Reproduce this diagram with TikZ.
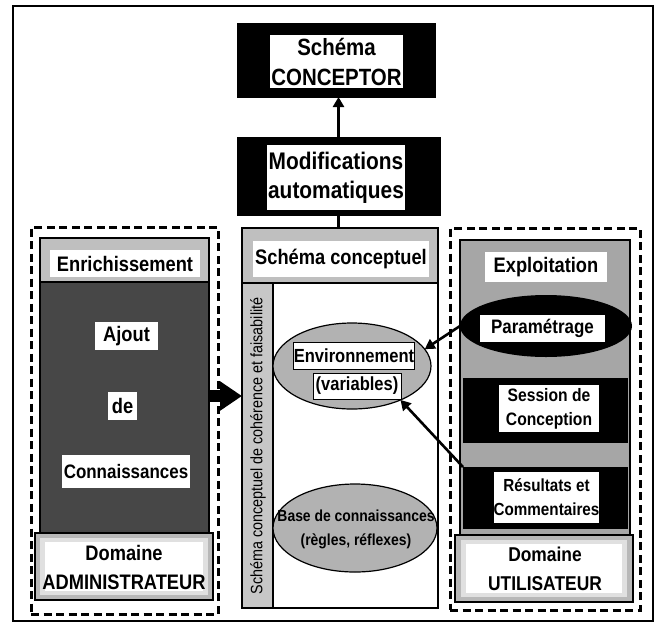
\documentclass[tikz,border=0pt]{standalone}
\usepackage{fontspec}
\setmainfont{Liberation Sans}[FakeStretch=0.87]
\usetikzlibrary{shapes.geometric,arrows.meta}
\newcommand{\fsz}[2]{\fontsize{#1}{#2}\selectfont}
\begin{document}
\begin{tikzpicture}[x=1pt,y=-1pt,
  box/.style={rectangle, inner sep=0pt, outer sep=0pt},
  blackbox/.style={box, fill=black, draw=black},
  whitelab/.style={box, fill=white, align=center, font=\bfseries\fsz{21}{28}},
  dashbox/.style={box, draw=black, line width=3pt, dash pattern=on 8pt off 4.5pt},
  panel/.style={box, draw=black, line width=1.1pt},
  domouter/.style={box, draw=black, line width=1.3pt, fill=black!28},
  arr/.style={line width=2.6pt, -{Triangle[length=10pt,width=11pt]}},
  ell/.style={ellipse, inner sep=0pt, outer sep=0pt, draw=black, line width=1.2pt, fill=black!30}
]
\useasboundingbox (0,0) rectangle (660,627);
\fill[white] (0,0) rectangle (660,627);
\draw[line width=1.5pt] (13,6) rectangle (653,621);

% top boxes
\node[blackbox, minimum width=198pt, minimum height=74pt] (conceptor) at (336,60) {};
\node[whitelab, font=\bfseries\fsz{23.5}{30}, minimum width=133pt, minimum height=53pt] (conceptorlab) at (336.5,61.5) {Schéma\\CONCEPTOR};
\node[blackbox, minimum width=203pt, minimum height=78pt] (modif) at (338.5,176) {};
\node[whitelab, font=\bfseries\fsz{24}{29}, minimum width=138pt, minimum height=65pt] (modiflab) at (336,177.5) {Modifications\\automatiques};

% left: administrateur
\node[dashbox, minimum width=187pt, minimum height=387pt] (admin) at (124.5,420.5) {};
\node[panel, fill=black!25, minimum width=169pt, minimum height=44pt] (enrich) at (124.5,260) {};
\node[whitelab, minimum width=150pt, minimum height=27pt] (enrichlab) at (125,263.5) {Enrichissement};
\node[panel, fill=black!72, minimum width=169pt, minimum height=251pt] (dark) at (124.5,407.5) {};
\node[whitelab, minimum width=63pt, minimum height=28pt] (ajout) at (126.5,336) {Ajout};
\node[whitelab, minimum width=29pt, minimum height=28pt] (de) at (122.5,406) {de};
\node[whitelab, font=\bfseries\fsz{19.5}{24}, minimum width=128pt, minimum height=33pt] (conn) at (126,471.5) {Connaissances};
\node[domouter, minimum width=178pt, minimum height=67pt] (admdom) at (124,566.5) {};
\fill[black!12] (40,538) rectangle (208,595);
\fill[white] (45,542) rectangle (203,591);
\node[align=center, font=\bfseries\fsz{21}{29}] (admdomlab) at (124,567) {Domaine\\ADMINISTRATEUR};

% centre column
\node[box, draw=black, line width=1.2pt, fill=white, minimum width=196pt, minimum height=380pt] (col) at (340,418) {};
\node[box, draw=black, line width=1.2pt, fill=black!25, minimum width=196pt, minimum height=55pt] (colhead) at (340,255.5) {};
\node[whitelab, minimum width=176pt, minimum height=36pt] (colheadlab) at (341,259) {Schéma conceptuel};
\node[box, draw=black, line width=1.2pt, fill=black!22, minimum width=31pt, minimum height=325pt] (vbar) at (257.5,445.5) {};
\node[rotate=90, font=\fsz{16.5}{20}] (vtext) at (258,446) {Schéma conceptuel de cohérence et faisabilité};
\node[ell, minimum width=158pt, minimum height=86pt] (env) at (352,366) {};
\node[whitelab, draw=black, line width=1pt, font=\bfseries\fsz{19}{22}, minimum width=120pt, minimum height=27pt] (envlab) at (354,355.5) {Environnement};
\node[whitelab, draw=black, line width=1pt, font=\bfseries\fsz{19}{22}, minimum width=88pt, minimum height=26pt] (varlab) at (357,386) {(variables)};
\node[ell, minimum width=164pt, minimum height=88pt] (base) at (355,528) {};
\node[align=center, font=\bfseries\fsz{16}{24}] (baselab) at (356,529) {Base de connaissances\\(règles, réflexes)};

% right: utilisateur
\node[dashbox, minimum width=190pt, minimum height=382pt] (user) at (545,419) {};
\node[panel, fill=black!35, minimum width=170pt, minimum height=295pt] (rpanel) at (545,387.5) {};
\node[whitelab, minimum width=122pt, minimum height=30pt] (exploit) at (546,267) {Exploitation};
\node[ellipse, fill=black, inner sep=0pt, outer sep=0pt, minimum width=172pt, minimum height=62pt] (param) at (546,326) {};
\node[whitelab, font=\bfseries\fsz{19.5}{23}, minimum width=125pt, minimum height=27pt] (paramlab) at (542.5,328.5) {Paramétrage};
\node[blackbox, minimum width=164pt, minimum height=64pt] (session) at (545,410) {};
\node[whitelab, font=\bfseries\fsz{18}{24}, minimum width=100pt, minimum height=47pt] (sessionlab) at (549,408.5) {Session de\\Conception};
\node[blackbox, minimum width=164pt, minimum height=61pt] (result) at (545,497.5) {};
\node[whitelab, font=\bfseries\fsz{17.5}{24}, minimum width=103pt, minimum height=51pt] (resultlab) at (546.5,497.5) {Résultats et\\Commentaires};
\node[domouter, minimum width=178pt, minimum height=67pt] (usrdom) at (544,568.5) {};
\fill[black!12] (461,540) rectangle (627,597);
\fill[white] (466,544) rectangle (622,593);
\node[align=center, font=\bfseries\fsz{20}{29}] (usrdomlab) at (545,569) {Domaine\\UTILISATEUR};

% connectors
\draw[arr] (modif.north) -- (conceptor.south -| modif.north);
\draw[line width=2.6pt] (modif.south) -- (modif.south |- colhead.north);
\coordinate (bigy) at (0,396);
\draw[line width=12pt, -{Triangle[length=22pt,width=28pt]}] (dark.east |- bigy) -- (col.west |- bigy);
\draw[arr] (param.west) -- (env.13);
\draw[arr] (result.north west) -- (env.-35);
\end{tikzpicture}
\end{document}
